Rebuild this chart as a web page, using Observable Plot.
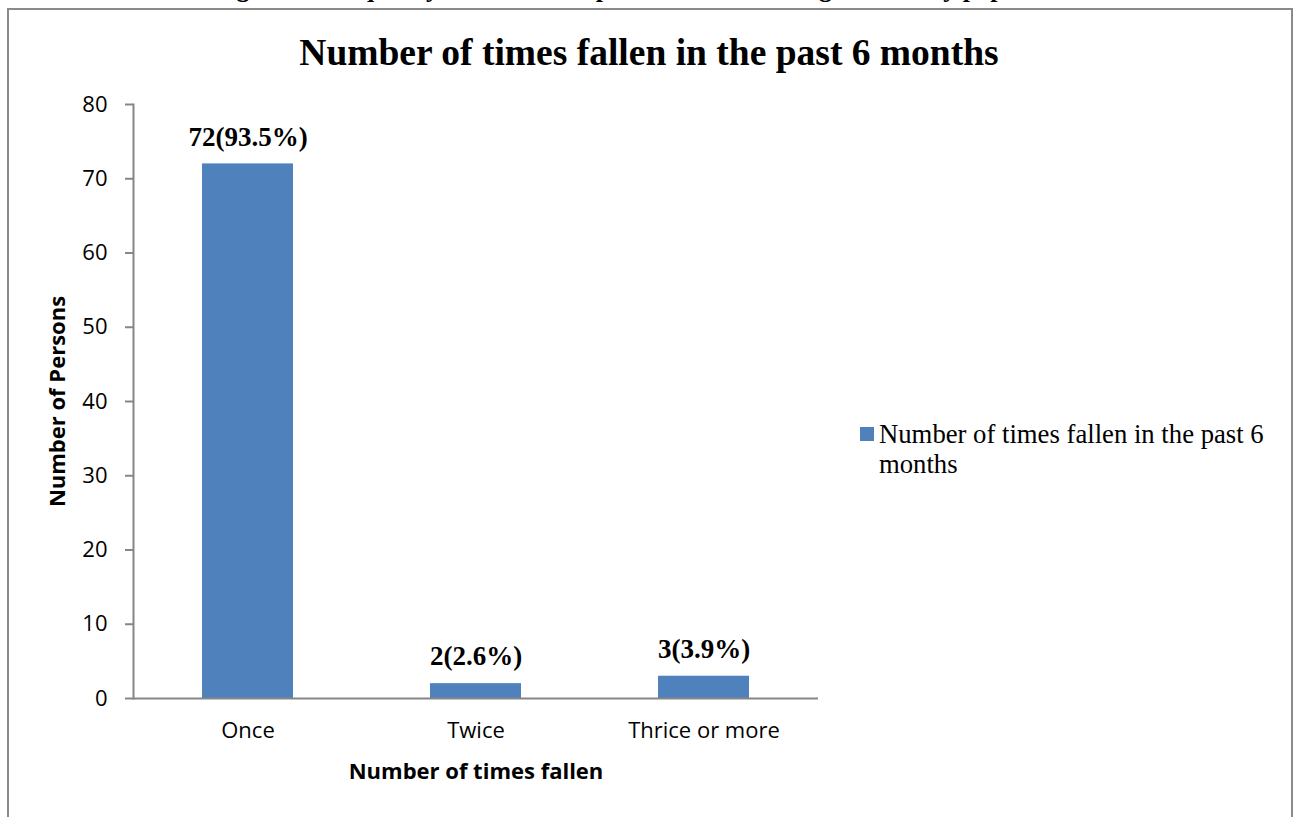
<!DOCTYPE html>
<html>
<head>
<meta charset="utf-8">
<script src="https://cdn.jsdelivr.net/npm/d3@7"></script>
<script src="https://cdn.jsdelivr.net/npm/@observablehq/plot@0.6"></script>
<style>
  html, body { margin: 0; padding: 0; background: #fff; width: 1296px; height: 817px; overflow: hidden; position: relative; }
  #caption { position: absolute; left: 0; width: 1296px; top: -26px; text-align: center; font-family: "Liberation Serif", serif; font-weight: bold; font-size: 26px; line-height: 30px; white-space: nowrap; }
  #box { position: absolute; left: 7px; top: 8px; width: 1282px; height: 900px; border: 2px solid #8a8a8a; background: transparent; }
  #title { position: absolute; left: 7px; width: 1284px; top: 32px; text-align: center; font-family: "Liberation Serif", serif; font-weight: bold; font-size: 37.5px; line-height: 42px; white-space: nowrap; }
  #chart { position: absolute; left: 0; top: 0; }
  #legend { position: absolute; left: 860px; top: 419px; font-family: "Liberation Serif", serif; font-size: 26.7px; line-height: 30px; }
  #legend .sw { position: absolute; left: 0; top: 8px; width: 14px; height: 14px; }
  #legend .lt { position: absolute; left: 19px; top: 0; width: 410px; }
  [aria-label="x-axis label"], [aria-label="y-axis label"] { font-weight: bold; font-size: 22px; }
</style>
</head>
<body>
<div id="caption"></div>
<div id="box"></div>
<div id="chart"></div>
<div id="title"></div>
<div id="legend"></div>
<script>
const captionText = "Figure 2: Frequency of falls in the past 6 months among the elderly population";
const chartTitle = "Number of times fallen in the past 6 months";
const seriesName = "Number of times fallen in the past 6 months";
const categories = ["Once", "Twice", "Thrice or more"];
const counts = [72, 2, 3];
const percents = ["93.5", "2.6", "3.9"];
const yTicks = [0, 10, 20, 30, 40, 50, 60, 70, 80];
const xLabel = "Number of times fallen";
const yLabel = "Number of Persons";
const barColor = "#4f81bd";
const axisColor = "#868686";

const data = categories.map((c, i) => ({cat: c, value: counts[i], label: `${counts[i]}(${percents[i]}%)`}));

document.getElementById("caption").textContent = captionText;
document.getElementById("title").textContent = chartTitle;
const lg = document.getElementById("legend");
lg.innerHTML = `<div class="sw" style="background:${barColor}"></div><div class="lt"></div>`;
lg.querySelector(".lt").textContent = seriesName;

const chart = Plot.plot({
  width: 1296,
  height: 817,
  marginTop: 104,
  marginBottom: 119,
  marginLeft: 133,
  marginRight: 478,
  style: {fontFamily: "'Open Sans', sans-serif", fontSize: "22px", color: "#000", background: "transparent"},
  x: {domain: categories, range: [133, 818], paddingInner: 0.6, paddingOuter: 0.3, label: null},
  y: {domain: [0, 80], label: null},
  marks: [
    Plot.barY(data, {x: "cat", y: "value", fill: barColor}),
    Plot.frame({anchor: "left", stroke: axisColor, strokeWidth: 2}),
    Plot.ruleY([0], {stroke: axisColor, strokeWidth: 2}),
    Plot.axisY({ticks: yTicks, tickSize: 8, tickPadding: 18, fontSize: 22, stroke: axisColor, strokeWidth: 2, tickFormat: d => String(d),
      label: yLabel, labelAnchor: "center", labelOffset: 84, labelArrow: "none"}),
    Plot.axisX({tickSize: 0, tickPadding: 24, fontSize: 22, label: xLabel, labelAnchor: "center", labelOffset: 80, labelArrow: "none"}),
    Plot.text(data, {x: "cat", y: "value", text: "label", dy: -27, fontFamily: "'Liberation Serif', serif", fontWeight: "bold", fontSize: 27, fill: "#000"})
  ]
});
document.getElementById("chart").appendChild(chart);
</script>
</body>
</html>
